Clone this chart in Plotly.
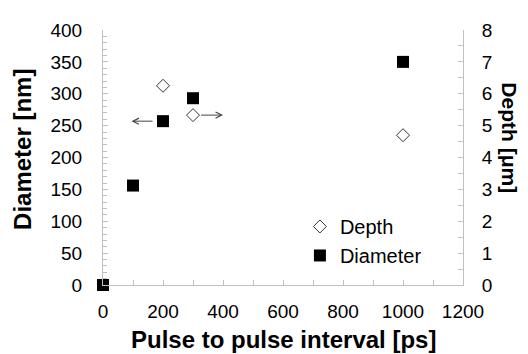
import plotly.graph_objects as go

# Data
interval_diam = [0, 100, 200, 300, 1000]
diameter_nm = [0, 156, 257, 293, 350]
interval_depth = [200, 300, 1000]
depth_um = [6.25, 5.33, 4.7]

# Arrows (data coordinates): Diameter arrow points left, Depth arrow points right
diam_arrow_tail_x, diam_arrow_head_x, diam_arrow_y = 170, 95, 257
depth_arrow_tail_x, depth_arrow_head_x, depth_arrow_y = 322, 400, 5.33

FONT = "Liberation Sans, Arial, sans-serif"
AXC = "#c0c0c0"

fig = go.Figure()
fig.add_trace(go.Scatter(
    x=interval_depth, y=depth_um, mode="markers", name="Depth", yaxis="y2",
    marker=dict(symbol="diamond-open", size=10, color="#333", line=dict(width=1, color="#333")),
    cliponaxis=False))
fig.add_trace(go.Scatter(
    x=interval_diam, y=diameter_nm, mode="markers", name="Diameter",
    marker=dict(symbol="square", size=12, color="#000"),
    cliponaxis=False))

fig.add_annotation(x=diam_arrow_head_x, y=diam_arrow_y, ax=diam_arrow_tail_x, ay=diam_arrow_y,
                   xref="x", yref="y", axref="x", ayref="y", showarrow=True, text="",
                   arrowhead=5, arrowsize=1.2, arrowwidth=1, arrowcolor="#444")
fig.add_annotation(x=depth_arrow_head_x, y=depth_arrow_y, ax=depth_arrow_tail_x, ay=depth_arrow_y,
                   xref="x", yref="y2", axref="x", ayref="y2", showarrow=True, text="",
                   arrowhead=5, arrowsize=1.2, arrowwidth=1, arrowcolor="#444")

# Axis titles
fig.add_annotation(text="<b>Diameter [nm]</b>", xref="paper", yref="paper", x=-0.222, y=0.53,
                   xanchor="center", yanchor="middle",
                   textangle=-90, showarrow=False,
                   font=dict(size=24, color="#000", family=FONT))
fig.add_annotation(text="<b>Depth [μm]</b>", xref="paper", yref="paper", x=1.13, y=0.576,
                   xanchor="center", yanchor="middle",
                   textangle=90, showarrow=False,
                   font=dict(size=21, color="#000", family=FONT))
fig.add_annotation(text="<b>Pulse to pulse interval [ps]</b>", xref="paper", yref="paper",
                   x=0.5, y=-0.212, xanchor="center", yanchor="middle",
                   showarrow=False, font=dict(size=24, color="#000", family=FONT))

tickfont = dict(size=19, color="#000", family=FONT)
fig.update_layout(
    width=520, height=346,
    margin=dict(l=95, r=65, t=13, b=69),
    paper_bgcolor="white", plot_bgcolor="white",
    font=dict(family=FONT, color="#000"),
    showlegend=True,
    legend=dict(x=0.547, y=0.306, xanchor="left", yanchor="top",
                font=dict(size=20, color="#000", family=FONT),
                bgcolor="rgba(0,0,0,0)", itemwidth=30),
    xaxis=dict(range=[0, 1200], dtick=200, tick0=0, ticks="inside", ticklen=5, tickcolor=AXC,
               showline=True, linecolor=AXC, linewidth=1, showgrid=False, zeroline=False,
               tickfont=tickfont, ticklabelstandoff=9,
               minor=dict(dtick=100, ticks="inside", ticklen=5, tickcolor=AXC, showgrid=False)),
    yaxis=dict(range=[0, 400], dtick=50, ticks="inside", ticklen=5, tickcolor=AXC,
               showline=True, linecolor=AXC, linewidth=1, showgrid=False, zeroline=False,
               tickfont=tickfont, ticklabelstandoff=16,
               minor=dict(dtick=10, ticks="inside", ticklen=4, tickcolor=AXC, showgrid=False)),
    yaxis2=dict(range=[0, 8], dtick=1, overlaying="y", side="right", ticks="inside", ticklen=5,
                tickcolor=AXC, showline=True, linecolor=AXC, linewidth=1, showgrid=False,
                zeroline=False, tickfont=tickfont, ticklabelstandoff=14,
                minor=dict(dtick=0.5, ticks="inside", ticklen=5, tickcolor=AXC, showgrid=False)),
)

fig.write_html("out.html")
